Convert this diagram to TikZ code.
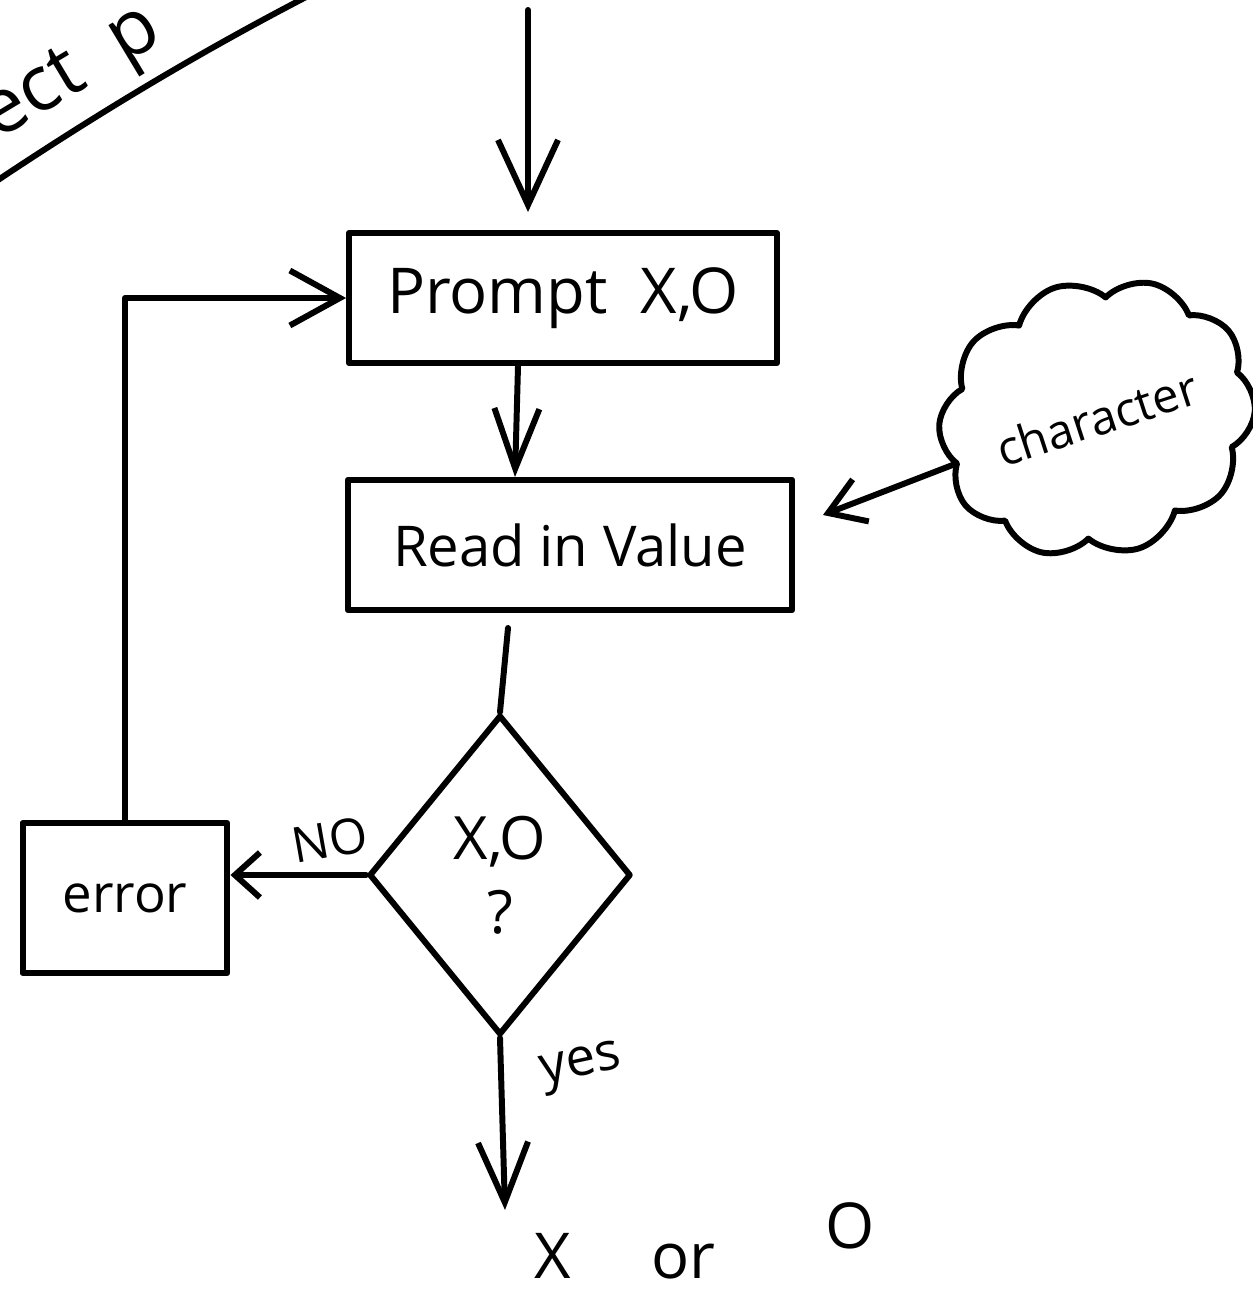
\documentclass[tikz,border=0pt]{standalone}
\usepackage{fontspec}
\setmainfont{Open Sans}
\usetikzlibrary{arrows.meta,shapes.geometric,shapes.symbols,calc}

\begin{document}
\begin{tikzpicture}[x=0.02cm, y=-0.02cm, line width=3.4pt, line join=round, line cap=round,
  fnt/.style={font=\fontsize{#1}{#1}\selectfont},
  boxnode/.style={draw, inner sep=0pt, minimum height=2.6cm},
  barb/.style 2 args={-{Straight Barb[length=#1, width=#2]}},
  lbl/.style={inner sep=0pt},
]
\useasboundingbox (0,0) rectangle (1253,1292);
\clip (0,0) rectangle (1253,1292);

% heading fragment in the corner, underlined
\node[lbl, fnt=44, rotate=31, anchor=base west] (head) at (-5,142) {ect\ \ p};
\draw (-5,182) .. controls (100,112) and (200,52) .. (310,-5);

% process boxes
\node[boxnode, minimum width=8.56cm, fnt=36] (prompt) at (563,298) {Prompt\ \ X,O};
\node[boxnode, minimum width=8.9cm, fnt=32] (read) at (570,545) {Read in Value};
\node[boxnode, minimum width=4.1cm, minimum height=3.0cm, fnt=30] (err) at (125,898) {error};

% decision
\node[draw, shape=diamond, aspect=0.82, minimum width=5.24cm, minimum height=6.4cm,
      inner sep=0pt, align=center, fnt=34] (dia) at (500,875) {X,O\\[8pt]?};

% input cloud with its label
\node[draw, shape=cloud, cloud puffs=10, cloud puff arc=115, aspect=1.25, rotate=18,
      minimum width=5.5cm, minimum height=4.4cm, inner sep=0pt, fnt=27] (cloud) at (1097,418) {character};

% entry arrow
\coordinate (start) at (528,10);
\draw[barb={1.3cm}{1.2cm}, shorten >=0.36cm] (start) -- (start |- prompt.north);

% prompt to read
\draw[barb={1.2cm}{0.9cm}] ([xshift=-0.9cm]prompt.south) -- ([xshift=-1.1cm]read.north);

% cloud to read
\draw[barb={0.7cm}{0.9cm}] (cloud.west) -- ([xshift=0.55cm, yshift=0.6cm]read.east);

% read to decision
\draw ([xshift=-1.24cm, yshift=-0.3cm]read.south) -- (dia.north);

% decision: no
\draw[barb={0.5cm}{0.9cm}] (dia.west) -- (dia.west -| err.east);
\node[lbl, fnt=28, rotate=10] (nolbl) at (330,840) {NO};

% error loops back to prompt
\draw[barb={1.0cm}{1.1cm}] (err.north) |- (prompt.west);

% decision: yes
\coordinate (outend) at (505,1210);
\draw[barb={1.2cm}{1.0cm}] (dia.south) -- (outend);
\node[lbl, fnt=30, rotate=12] (yeslbl) at (582,1068) {yes};

% result
\node[lbl, fnt=36, anchor=base west] (result) at (532,1278)
  {X\hspace{1.6cm}or\hspace{2.2cm}\raisebox{0.6cm}{O}};
\end{tikzpicture}
\end{document}
